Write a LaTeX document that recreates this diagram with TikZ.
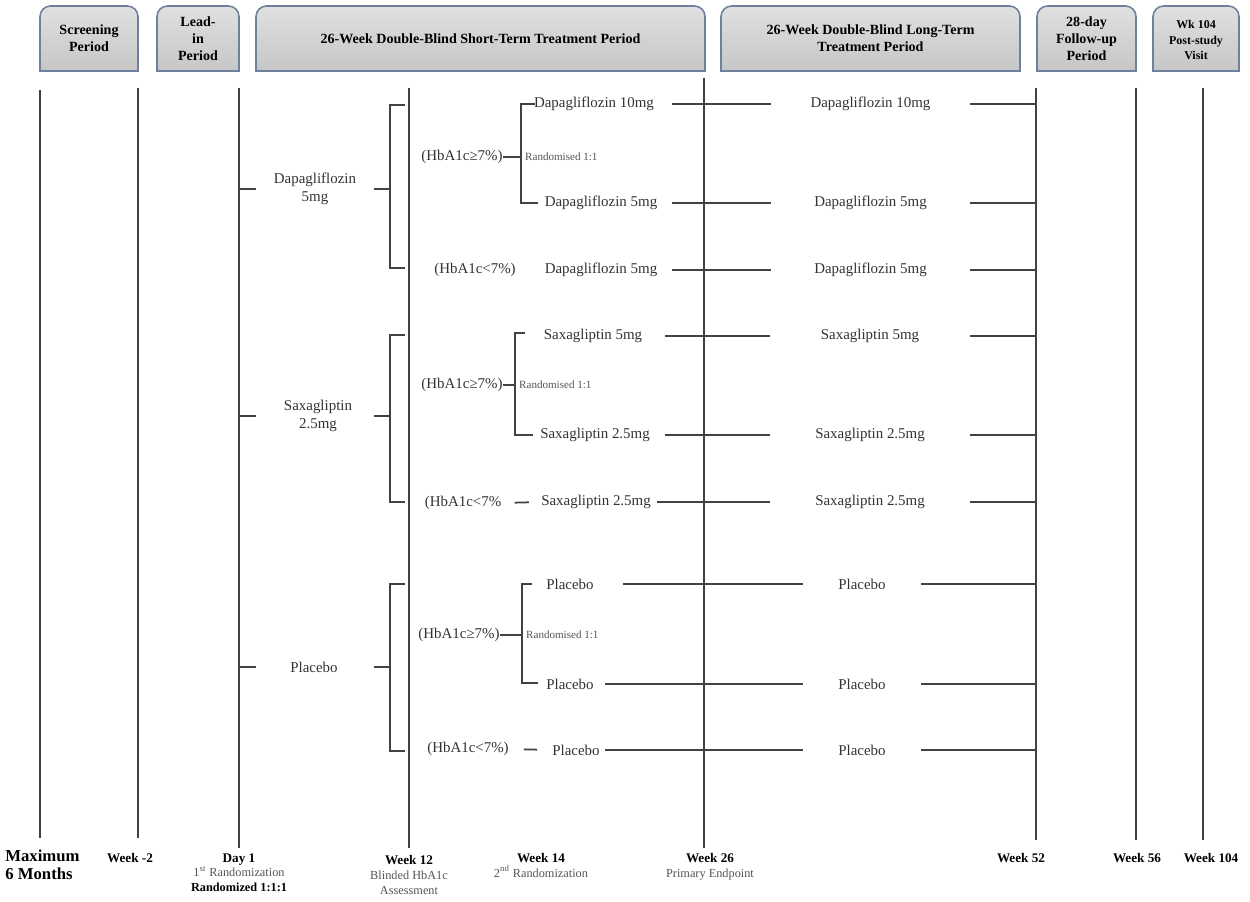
\documentclass[tikz,border=0pt]{standalone}
\usepackage{fontspec}
\setmainfont{Liberation Serif}
\usetikzlibrary{positioning}
\definecolor{tlgray}{RGB}{66,66,66}
\definecolor{txgray}{RGB}{50,50,50}
\definecolor{subgray}{RGB}{85,85,85}
\definecolor{boxedge}{RGB}{110,128,158}
\definecolor{boxtop}{RGB}{224,224,224}
\definecolor{boxbot}{RGB}{198,198,198}
\tikzset{
  tline/.style={draw=tlgray,line width=1pt},
  periodbox/.style={draw=boxedge,line width=0.9pt,top color=boxtop,bottom color=boxbot},
  periodtext/.style={align=center,inner sep=0pt,font=\bfseries\fontsize{8}{9.8}\selectfont},
  armtext/.style={text=txgray,inner sep=0pt,font=\fontsize{8.5}{10}\selectfont},
  randtext/.style={text=subgray,inner sep=0pt,font=\fontsize{6.3}{7}\selectfont},
  wklabel/.style={align=center,inner sep=0pt,font=\bfseries\fontsize{7.5}{8.4}\selectfont},
}
% one treatment row: name, y, left x, text, line start, right x, gap width
\newcommand{\armrow}[7]{%
  \node[armtext] (#1a) at (#3,#2) {#4};
  \node[armtext,minimum width=#7] (#1b) at (#6,#2) {#4};
  \coordinate (#1s) at (#5,#2);
  \draw[tline] (#1s) -- (#1b.west);
  \draw[tline] (#1b.east) -- (#1b.east -| wkft);
}
% first randomised arm with its bracket
\newcommand{\armgroup}[6]{%
  \node[armtext,align=center] (#1) at (#2,#3) {#4};
  \coordinate (#1sp) at (390,#3);
  \coordinate (#1t) at (405,#5);
  \coordinate (#1u) at (405,#6);
  \draw[tline] (dayt |- #1) -- ++(17,0);
  \draw[tline] (#1sp) -- ++(-16,0);
  \draw[tline] (#1t) -| (#1sp) |- (#1u);
}
% second randomisation split
\newcommand{\subsplit}[8]{%
  \node[armtext] (#1) at (#2,#3) {(HbA1c≥7\%)};
  \coordinate (#1sp) at (#4,#3);
  \coordinate (#1t) at (#6,#5);
  \coordinate (#1u) at (#8,#7);
  \draw[tline] (#1.east) -- (#1sp);
  \draw[tline] (#1t) -| (#1sp) |- (#1u);
  \node[randtext,anchor=west,right=2.2pt of #1sp] (#1r) {Randomised 1:1};
}

\begin{document}
\begin{tikzpicture}[x=0.02cm,y=-0.02cm]
  \useasboundingbox (0,0) rectangle (1250,902);

  % period boxes
  \foreach \nm/\xa/\xb/\txt in {scr/40/138/{Screening\\Period},
      lead/157/239/{Lead-\\in\\Period},
      short/256/705/{26-Week Double-Blind Short-Term Treatment Period},
      long/721/1020/{26-Week Double-Blind Long-Term\\Treatment Period},
      fup/1037/1136/{28-day\\Follow-up\\Period}}{
    \draw[periodbox] (\xa,71) [rounded corners=6pt] -- (\xa,6) -- (\xb,6) [sharp corners] -- (\xb,71) -- cycle;
    \node[periodtext] (\nm) at ({(\xa+\xb)/2},38.5) {\txt};
  }
  \draw[periodbox] (1153,71) [rounded corners=6pt] -- (1153,6) -- (1239,6) [sharp corners] -- (1239,71) -- cycle;
  \node[periodtext,font=\bfseries\fontsize{6.8}{8.6}\selectfont] (post) at (1196,40) {Wk 104\\Post-study\\Visit};

  % time lines
  \foreach \nm/\x/\ya/\yb in {max/40/90/838, wkm/138/88/838, day/239/88/848,
      wkt/409/88/848, wks/704/78/848, wkf/1036/88/840, wkg/1136/88/840, wkh/1203/88/840}{
    \coordinate (\nm t) at (\x,\ya);
    \coordinate (\nm b) at (\x,\yb);
    \draw[tline] (\nm t) -- (\nm b);
  }

  % Dapagliflozin
  \armgroup{dapa}{315}{189}{Dapagliflozin\\5mg}{105}{268}
  \armrow{dten}{104}{594}{Dapagliflozin 10mg}{672}{870.5}{3.98cm}
  \armrow{dfh}{203}{601}{Dapagliflozin 5mg}{672}{870.5}{3.98cm}
  \armrow{dfl}{270}{601}{Dapagliflozin 5mg}{672}{870.5}{3.98cm}
  \subsplit{dhi}{462}{157}{521}{104}{535}{203}{538}
  \node[armtext] (dlo) at (475,270) {(HbA1c<7\%)};

  % Saxagliptin
  \armgroup{saxa}{318}{416}{Saxagliptin\\2.5mg}{335}{502}
  \armrow{sfive}{336}{593}{Saxagliptin 5mg}{665}{870}{4cm}
  \armrow{sth}{435}{595}{Saxagliptin 2.5mg}{665}{870}{4cm}
  \armrow{stl}{502}{596}{Saxagliptin 2.5mg}{657}{870}{4cm}
  \subsplit{shi}{462}{385}{515}{333}{525}{435}{533}
  \node[armtext] (slo) at (463,503) {(HbA1c<7\%};
  \draw[tline,shorten <=7.4pt,shorten >=6.8pt] (slo.east) -- (stla.west);

  % Placebo
  \armgroup{plac}{314}{667}{Placebo}{584}{751}
  \armrow{pone}{584}{570}{Placebo}{623}{862}{2.36cm}
  \armrow{ptwo}{684}{570}{Placebo}{605}{862}{2.36cm}
  \armrow{pthr}{750}{576}{Placebo}{605}{862}{2.36cm}
  \subsplit{phi}{459}{635}{522}{584}{532}{683}{538}
  \node[armtext] (plo) at (468,749) {(HbA1c<7\%)};
  \draw[tline,shorten <=8.5pt,shorten >=8.5pt] (plo.east) -- (pthra.west);

  % week labels
  \node[wklabel,align=left,anchor=north west,font=\bfseries\fontsize{9.5}{10.2}\selectfont] (maxl) at (5,850) {Maximum\\6 Months};
  \node[wklabel,anchor=north] (wkml) at (130,853) {Week -2};
  \node[wklabel,anchor=north] (dayl) at (239,853) {Day 1\\{\mdseries\color{subgray}\fontsize{7}{8.4}\selectfont 1\textsuperscript{st} Randomization}\\{\fontsize{7}{8.4}\selectfont Randomized 1:1:1}};
  \node[wklabel,anchor=north] (wktl) at (409,855) {Week 12\\{\mdseries\color{subgray}\fontsize{7}{8.4}\selectfont Blinded HbA1c}\\{\mdseries\color{subgray}\fontsize{7}{8.4}\selectfont Assessment}};
  \node[wklabel,anchor=north] (wkfl) at (541,853) {Week 14\\{\mdseries\color{subgray}\fontsize{7}{8.4}\selectfont 2\textsuperscript{nd} Randomization}};
  \node[wklabel,anchor=north] (wksl) at (710,853) {Week 26\\{\mdseries\color{subgray}\fontsize{7}{8.4}\selectfont Primary Endpoint}};
  \node[wklabel,anchor=north] (wk52l) at (1021,853) {Week 52};
  \node[wklabel,anchor=north] (wk56l) at (1137,853) {Week 56};
  \node[wklabel,anchor=north] (wk104l) at (1211,853) {Week 104};
\end{tikzpicture}
\end{document}
